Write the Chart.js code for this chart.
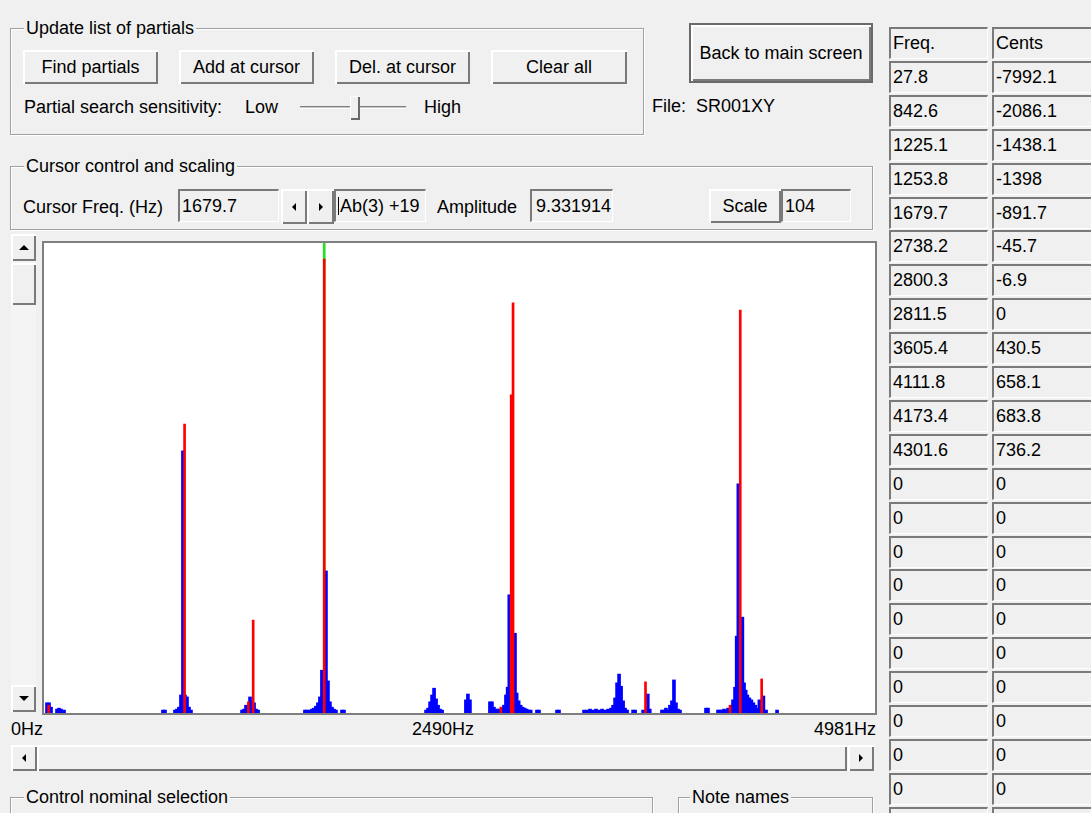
<!DOCTYPE html>
<html><head><meta charset="utf-8">
<script src="https://cdn.jsdelivr.net/npm/chart.js@4.4.1/dist/chart.umd.min.js"></script>
<style>
*{box-sizing:border-box}
html,body{margin:0;padding:0}
body{width:1091px;height:813px;overflow:hidden;position:relative;background:#f0f0f0;font-family:"Liberation Sans",Arial,sans-serif;font-size:18px;color:#000}
.a{position:absolute;white-space:nowrap;line-height:20px}
.grp{position:absolute;border:1px solid #a0a0a0;box-shadow:inset 1px 1px 0 #fff,1px 1px 0 #fff}
.gt{position:absolute;background:#f0f0f0;padding:0 2px;line-height:20px;white-space:nowrap}
.btn{position:absolute;background:#f0f0f0;box-shadow:inset 2px 2px 0 #fff,inset -2px -2px 0 #7a7a7a;display:flex;align-items:center;justify-content:center;white-space:nowrap}
.sunk{position:absolute;background:#f0f0f0;border-top:2px solid #7a7a7a;border-left:2px solid #7a7a7a;border-right:1px solid #fff;border-bottom:1px solid #fff;padding-left:2px;display:flex;align-items:center;white-space:nowrap;overflow:hidden}
.tri{width:0;height:0;border-style:solid}
#frame{position:absolute;left:42px;top:241px;width:835px;height:474px;border:2px solid #7f7f7f;background:#fff}
#spec{position:absolute;left:0;top:0}
</style>
</head><body>

<!-- Update list of partials -->
<div class="grp" style="left:10px;top:28px;width:634px;height:107px"></div>
<div class="gt" style="left:24px;top:18px">Update list of partials</div>
<div class="btn" style="left:23px;top:50px;width:135px;height:34px">Find partials</div>
<div class="btn" style="left:179px;top:50px;width:135px;height:34px">Add at cursor</div>
<div class="btn" style="left:335px;top:50px;width:135px;height:34px">Del. at cursor</div>
<div class="btn" style="left:491px;top:50px;width:136px;height:34px">Clear all</div>
<div class="a" style="left:24px;top:97px">Partial search sensitivity:</div>
<div class="a" style="left:245px;top:97px">Low</div>
<div style="position:absolute;left:300px;top:106px;width:106px;height:3px;border-top:1px solid #808080;border-bottom:1px solid #fff;background:#c8c8c8"></div>
<div style="position:absolute;left:350px;top:96px;width:10px;height:24px;background:#f0f0f0;box-shadow:inset 1px 1px 0 #fff,inset -2px -2px 0 #6a6a6a"></div>
<div class="a" style="left:424px;top:97px">High</div>
<div class="a" style="left:652px;top:96px">File:&nbsp; SR001XY</div>

<div class="btn" style="left:689px;top:23px;width:184px;height:60px;border:2px solid #6a6a6a">Back to main screen</div>

<!-- Cursor control and scaling -->
<div class="grp" style="left:10px;top:166px;width:863px;height:64px"></div>
<div class="gt" style="left:24px;top:156px">Cursor control and scaling</div>
<div class="a" style="left:23px;top:197px">Cursor Freq. (Hz)</div>
<div class="sunk" style="left:178px;top:189px;width:101px;height:33px" id="cursorBox"></div>
<div class="btn" style="left:281px;top:189px;width:26px;height:35px"><div class="tri" style="border-width:4px 4px 4px 0;border-color:transparent #000 transparent transparent"></div></div>
<div class="btn" style="left:307px;top:189px;width:27px;height:35px"><div class="tri" style="border-width:4px 0 4px 4px;border-color:transparent transparent transparent #000"></div></div>
<div class="sunk" style="left:334px;top:189px;width:92px;height:33px"><span style="display:inline-block;width:1px;height:18px;background:#000;margin-right:1px"></span>Ab(3) +19</div>
<div class="a" style="left:437px;top:197px">Amplitude</div>
<div class="sunk" style="left:530px;top:189px;width:83px;height:33px;padding-left:4px" id="ampBox"></div>
<div class="btn" style="left:709px;top:189px;width:72px;height:34px">Scale</div>
<div class="sunk" style="left:781px;top:189px;width:70px;height:33px">104</div>

<!-- vertical scrollbar -->
<div style="position:absolute;left:11px;top:234px;width:25px;height:478px;background:#f4f4f4"></div>
<div class="btn" style="left:11px;top:234px;width:25px;height:27px"><div class="tri" style="border-width:0 5px 5px 5px;border-color:transparent transparent #000 transparent"></div></div>
<div class="btn" style="left:11px;top:263px;width:25px;height:42px"></div>
<div class="btn" style="left:11px;top:685px;width:25px;height:27px"><div class="tri" style="border-width:5px 5px 0 5px;border-color:#000 transparent transparent transparent"></div></div>

<!-- chart -->
<div id="frame"><canvas id="spec" width="831" height="470"></canvas></div>
<div id="xlabels"></div>

<!-- horizontal scrollbar -->
<div style="position:absolute;left:11px;top:745px;width:864px;height:26px;background:#f4f4f4"></div>
<div class="btn" style="left:11px;top:745px;width:26px;height:26px"><div class="tri" style="border-width:4px 4px 4px 0;border-color:transparent #000 transparent transparent"></div></div>
<div class="btn" style="left:37px;top:745px;width:810px;height:26px"></div>
<div class="btn" style="left:848px;top:745px;width:26px;height:26px"><div class="tri" style="border-width:4px 0 4px 4px;border-color:transparent transparent transparent #000"></div></div>

<!-- bottom groups -->
<div class="grp" style="left:10px;top:797px;width:643px;height:40px"></div>
<div class="gt" style="left:24px;top:787px">Control nominal selection</div>
<div class="grp" style="left:678px;top:797px;width:195px;height:40px"></div>
<div class="gt" style="left:690px;top:787px">Note names</div>

<div id="table"></div>

<script>
// ---- data ----
const xTickLabels = ['0Hz', '2490Hz', '4981Hz'];
const freqRange = [0, 4981];
const ampMax = 9.66;
const cursorFreq = 1679.7;
const cursorAmplitude = '9.331914';
const partialFreqs = [27.8, 842.6, 1225.1, 1253.8, 1679.7, 2738.2, 2800.3, 2811.5, 3605.4, 4111.8, 4173.4, 4301.6];
const partialCents = ['-7992.1', '-2086.1', '-1438.1', '-1398', '-891.7', '-45.7', '-6.9', '0', '430.5', '658.1', '683.8', '736.2'];
const partialAmps = [0.16, 5.94, 0.23, 1.91, 9.33, 0.12, 6.54, 8.43, 0.64, 0.16, 8.28, 0.70];
const emptyRows = 11;
const spectrumFreqs = [
  18, 30, 42, 78, 90, 102, 120,
  713, 725,
  785, 797, 809, 821, 833, 845, 857, 869, 881,
  1187, 1199, 1211, 1223, 1235, 1247, 1259, 1271, 1283,
  1564, 1576, 1594, 1606, 1618, 1630, 1642, 1654, 1666, 1690, 1702, 1714, 1726, 1738, 1750, 1786, 1798,
  2290, 2302, 2314, 2326, 2338, 2350, 2362, 2374, 2386,
  2529, 2541, 2553,
  2673, 2685, 2697, 2709, 2721, 2733, 2745, 2757, 2769, 2779, 2789, 2823, 2833, 2845, 2857, 2869, 2881, 2893, 2905, 2917, 2955, 2967, 3075, 3087,
  3237, 3255, 3273, 3291, 3309, 3327, 3345, 3363, 3381, 3399, 3411, 3423, 3435, 3447, 3459, 3471, 3483, 3495,
  3531, 3543, 3591, 3619, 3631,
  3704, 3716, 3728, 3740, 3752, 3764, 3776, 3788, 3800, 3812,
  3968, 3980,
  4040, 4052, 4064, 4076, 4088, 4100, 4118, 4130, 4142, 4152, 4162, 4186, 4196, 4206, 4216, 4228, 4240, 4252, 4264, 4276, 4288, 4312, 4328, 4394
];
const spectrumAmps = [
  0.21, 0.21, 0.12, 0.08, 0.10, 0.08, 0.06,
  0.06, 0.06,
  0.06, 0.08, 0.12, 0.37, 5.39, 0.37, 0.33, 0.12, 0.06,
  0.06, 0.08, 0.16, 0.12, 0.33, 0.25, 0.21, 0.08, 0.06,
  0.06, 0.06, 0.06, 0.08, 0.10, 0.14, 0.21, 0.33, 0.88, 2.92, 0.66, 0.23, 0.12, 0.08, 0.06, 0.06, 0.06,
  0.06, 0.10, 0.23, 0.37, 0.51, 0.29, 0.16, 0.08, 0.06,
  0.27, 0.39, 0.27,
  0.23, 0.23, 0.12, 0.08, 0.08, 0.08, 0.10, 0.16, 0.37, 0.53, 2.43, 1.64, 0.41, 0.25, 0.16, 0.12, 0.10, 0.08, 0.06, 0.06, 0.06, 0.06, 0.06, 0.06,
  0.06, 0.06, 0.08, 0.06, 0.08, 0.06, 0.08, 0.06, 0.08, 0.10, 0.16, 0.31, 0.62, 0.80, 0.55, 0.25, 0.10, 0.06,
  0.06, 0.06, 0.06, 0.39, 0.08,
  0.06, 0.06, 0.10, 0.06, 0.16, 0.25, 0.68, 0.21, 0.08, 0.06,
  0.10, 0.10,
  0.06, 0.06, 0.06, 0.08, 0.06, 0.10, 0.16, 0.27, 0.53, 1.58, 4.71, 1.97, 0.62, 0.47, 0.37, 0.31, 0.27, 0.21, 0.16, 0.10, 0.27, 0.35, 0.06, 0.06
];

// ---- UI text from data ----
document.getElementById('cursorBox').textContent = cursorFreq.toFixed(1);
document.getElementById('ampBox').textContent = cursorAmplitude;

const xl = document.getElementById('xlabels');
const lblPos = [{left: 11}, {left: 412}, {right: 215}];
xTickLabels.forEach((t, i) => {
  const d = document.createElement('div');
  d.className = 'a';
  d.style.top = '719px';
  if (lblPos[i].left !== undefined) d.style.left = lblPos[i].left + 'px';
  else d.style.right = lblPos[i].right + 'px';
  d.textContent = t;
  xl.appendChild(d);
});

const tbl = document.getElementById('table');
const rows = [['Freq.', 'Cents']];
partialFreqs.forEach((f, i) => rows.push([String(f), partialCents[i]]));
for (let i = 0; i < emptyRows; i++) rows.push(['0', '0']);
rows.forEach((r, i) => {
  const top = Math.round(27 + 33.9 * i);
  [[889, 99], [992, 110]].forEach((c, j) => {
    const d = document.createElement('div');
    d.className = 'sunk';
    d.style.left = c[0] + 'px';
    d.style.top = top + 'px';
    d.style.width = c[1] + 'px';
    d.style.height = '32px';
    d.textContent = r[j];
    tbl.appendChild(d);
  });
});

// ---- chart ----
new Chart(document.getElementById('spec'), {
  type: 'bar',
  data: {
    datasets: [
      {
        label: 'Partials',
        data: partialFreqs.map((f, i) => ({x: f, y: partialAmps[i]})),
        backgroundColor: '#ff0000',
        barThickness: 2,
        order: 1
      },
      {
        label: 'Spectrum',
        data: spectrumFreqs.map((f, i) => ({x: f, y: spectrumAmps[i]})),
        backgroundColor: '#0000ff',
        barThickness: 3,
        order: 2
      },
      {
        label: 'Cursor',
        data: [{x: cursorFreq, y: ampMax}],
        backgroundColor: '#22e022',
        barThickness: 2,
        order: 3
      }
    ]
  },
  options: {
    responsive: false,
    animation: false,
    devicePixelRatio: 1,
    layout: {padding: 0},
    datasets: {bar: {grouped: false}},
    plugins: {legend: {display: false}, tooltip: {enabled: false}},
    scales: {
      x: {type: 'linear', min: freqRange[0], max: freqRange[1], offset: false, display: false},
      y: {min: 0, max: ampMax, display: false}
    }
  }
});
</script>
</body></html>
